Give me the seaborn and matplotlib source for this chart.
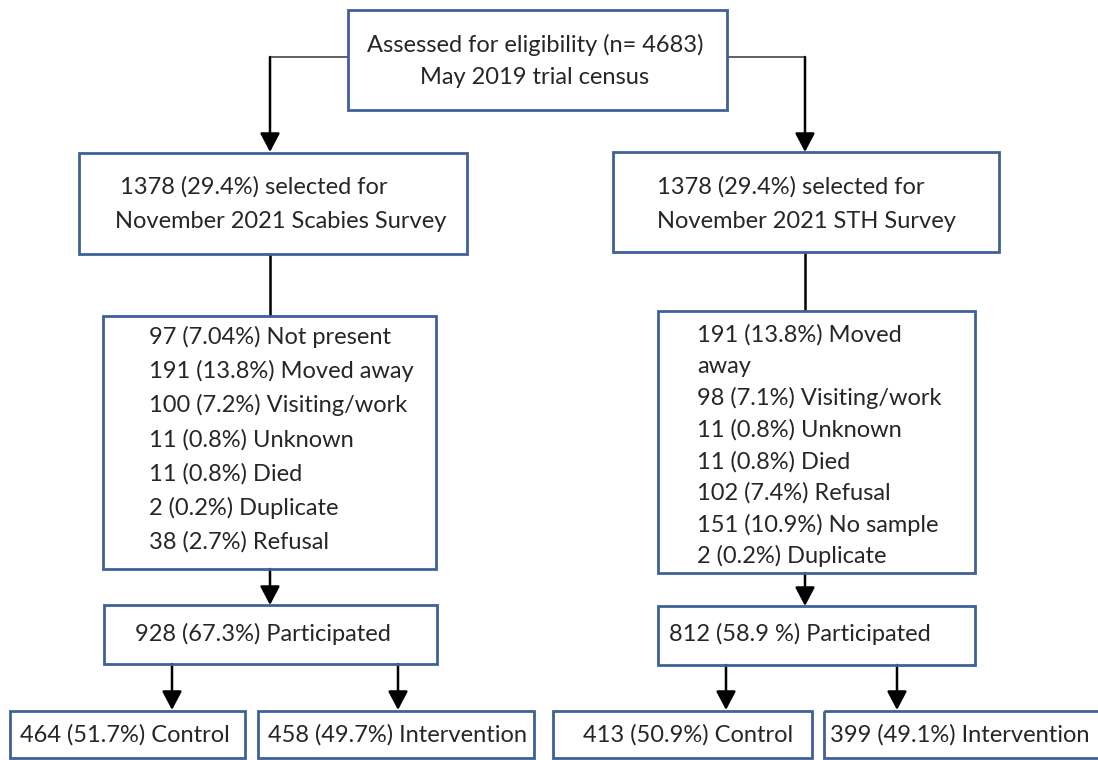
import matplotlib
matplotlib.use("Agg")
import matplotlib.pyplot as plt
from matplotlib.patches import Rectangle
import seaborn as sns

# ---- data ----
assessed_n = 4683
census_label = "May 2019 trial census"
selected_n = [1378, 1378]
selected_pct = ["29.4", "29.4"]
survey_names = ["Scabies", "STH"]

scabies_excl_n = [97, 191, 100, 11, 11, 2, 38]
scabies_excl_pct = ["7.04", "13.8", "7.2", "0.8", "0.8", "0.2", "2.7"]
scabies_excl_reason = ["Not present", "Moved away", "Visiting/work", "Unknown",
                       "Died", "Duplicate", "Refusal"]

sth_excl_n = [191, 98, 11, 11, 102, 151, 2]
sth_excl_pct = ["13.8", "7.1", "0.8", "0.8", "7.4", "10.9", "0.2"]
sth_excl_reason = ["Moved\naway", "Visiting/work", "Unknown", "Died",
                   "Refusal", "No sample", "Duplicate"]

participated_n = [928, 812]
participated_pct = ["67.3%", "58.9 %"]

arm_n = [464, 458, 413, 399]
arm_pct = ["51.7", "49.7", "50.9", "49.1"]
arm_names = ["Control", "Intervention", "Control", "Intervention"]

# ---- style ----
sns.set_theme(style="white")
plt.rcParams["font.family"] = ["Lato", "DejaVu Sans"]
FS = 17
EDGE = "#3f6098"

fig = plt.figure(figsize=(10.98, 7.60), dpi=100)
ax = fig.add_axes([0, 0, 1, 1])
ax.set_xlim(0, 1098)
ax.set_ylim(760, 0)
ax.axis("off")


def box(x0, y0, x1, y1):
    ax.add_patch(Rectangle((x0, y0), x1 - x0, y1 - y0, fill=False,
                           edgecolor=EDGE, linewidth=2.0, zorder=2))


def line(xs, ys, lw=1.8, color="black"):
    ax.plot(xs, ys, color=color, lw=lw, solid_capstyle="butt", zorder=1)


def arrow(x, y0, y1):
    ax.annotate("", xy=(x, y1), xytext=(x, y0),
                arrowprops=dict(arrowstyle="-|>,head_length=0.95,head_width=0.5",
                                color="black", lw=1.8, shrinkA=0, shrinkB=0),
                zorder=1)


# top box
box(348, 10, 727, 110)
ax.text(535, 45, f"Assessed for eligibility (n= {assessed_n})", ha="center",
        va="center", fontsize=FS)
ax.text(535, 77, census_label, ha="center", va="center", fontsize=FS)

# connectors from top box
line([348, 270], [57, 57], lw=1.2, color="#444444")
arrow(270, 57, 152)
line([727, 805], [57, 57], lw=1.2, color="#444444")
arrow(805, 57, 152)

# selected boxes
sel_boxes = [(79, 153, 467, 254), (613, 152, 999, 252)]
sel_text_x = [(120, 115), (657, 657)]
for i, (x0, y0, x1, y1) in enumerate(sel_boxes):
    box(x0, y0, x1, y1)
    ax.text(sel_text_x[i][0], 187, f"{selected_n[i]} ({selected_pct[i]}%) selected for",
            ha="left", va="center", fontsize=FS)
    ax.text(sel_text_x[i][1], 221, f"November 2021 {survey_names[i]} Survey",
            ha="left", va="center", fontsize=FS)

line([270, 270], [254, 316])
line([805, 805], [252, 311])

# exclusion boxes
box(103, 316, 436, 569)
y = 337
for n, p, r in zip(scabies_excl_n, scabies_excl_pct, scabies_excl_reason):
    ax.text(149, y, f"{n} ({p}%) {r}", ha="left", va="center", fontsize=FS)
    y += 34.2

box(658, 311, 975, 573)
rows = []
for n, p, r in zip(sth_excl_n, sth_excl_pct, sth_excl_reason):
    rows.extend(f"{n} ({p}%) {r}".split("\n"))
y = 335
for r in rows:
    ax.text(697, y, r, ha="left", va="center", fontsize=FS)
    y += 31.6

arrow(270, 569, 605)
arrow(805, 573, 606)

# participated boxes
part_boxes = [(104, 605, 437, 664), (658, 606, 975, 665)]
for i, (x0, y0, x1, y1) in enumerate(part_boxes):
    box(x0, y0, x1, y1)
for i, x in enumerate([263, 800]):
    ax.text(x, 634, f"{participated_n[i]} ({participated_pct[i]}) Participated",
            ha="center", va="center", fontsize=FS)

for x in [172, 398]:
    arrow(x, 664, 710)
for x in [726, 897]:
    arrow(x, 665, 710)

# arms
arm_boxes = [(10, 711, 245, 758), (258, 711, 534, 758),
             (553, 711, 812, 758), (824, 711, 1115, 758)]
arm_text_x = [125, 398, 688, 960]
for i, (x0, y0, x1, y1) in enumerate(arm_boxes):
    box(x0, y0, x1, y1)
    ax.text(arm_text_x[i], 735, f"{arm_n[i]} ({arm_pct[i]}%) {arm_names[i]}",
            ha="center", va="center", fontsize=FS)

fig.savefig("out.png", dpi=100, facecolor="white")
